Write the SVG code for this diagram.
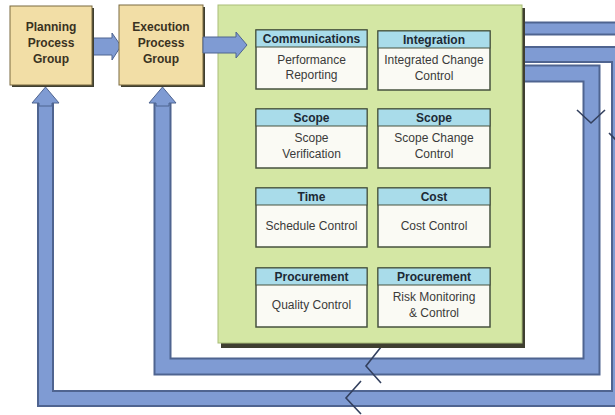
<svg xmlns="http://www.w3.org/2000/svg" width="615" height="415" viewBox="0 0 615 415">
  <style>
    .shadow { fill: #3f3f30; }
    .tan { fill: #F2DEA6; stroke: #7a6a40; stroke-width: 1; }
    .tantxt { font-family: "Liberation Sans", Arial, sans-serif; font-size: 12px; font-weight: bold; fill: #3a3222; text-anchor: middle; }
    .panel { fill: #D4E7A4; stroke: #a9bd78; stroke-width: 1; }
    .box { fill: #FAFAF4; stroke: #46523e; stroke-width: 1.5; }
    .hdr { fill: #A9DCEA; stroke: #46523e; stroke-width: 1; }
    .htxt { font-family: "Liberation Sans", Arial, sans-serif; font-size: 12px; font-weight: bold; fill: #1c2a36; text-anchor: middle; }
    .btxt { font-family: "Liberation Sans", Arial, sans-serif; font-size: 12px; fill: #3a3a3a; text-anchor: middle; }
    .bandE { fill: none; stroke: #4f6490; stroke-linejoin: miter; }
    .bandF { fill: none; stroke: #7F9BD3; stroke-linejoin: miter; }
    .arrow { fill: #7F9BD3; stroke: #4f6490; stroke-width: 1; }
    .chev { fill: none; stroke: #33405e; stroke-width: 1.6; }
  </style>

  <rect width="615" height="415" fill="#ffffff"/>

  <g id="connectors">
    <!-- outer loop: band 2 -> right -> bottom -> up to Planning -->
    <path class="bandE" stroke-width="17" d="M500 54.5 H619.5 V398.5 H45.5 V100"/>
    <path class="bandF" stroke-width="13" d="M500 54.5 H619.5 V398.5 H45.5 V100"/>
    <polygon class="arrow" points="45.5,87 59,103 52,103 52,106 39,106 39,103 32,103"/>
    <!-- inner loop: band 3 -> right -> bottom -> up to Execution -->
    <path class="bandE" stroke-width="18" d="M500 73.5 H591.5 V366.5 H162.5 V100"/>
    <path class="bandF" stroke-width="14" d="M500 73.5 H591.5 V366.5 H162.5 V100"/>
    <polygon class="arrow" points="162.5,87 176,103 169,103 169,106 156,106 156,103 149,103"/>
    <!-- band 1 off to the right -->
    <path class="bandE" stroke-width="14" d="M500 28.5 H616"/>
    <path class="bandF" stroke-width="10" d="M500 28.5 H616"/>
    <!-- chevron heads along the loops -->
    <polyline class="chev" points="577,110 591,123 605,110"/>
    <polyline class="chev" points="609,133 616,140"/>
    <polyline class="chev" points="381,347 366,366 381,383"/>
    <polyline class="chev" points="361,381 346,398 361,414"/>
    <!-- Planning -> Execution -->
    <polygon class="arrow" points="92,38 112,38 112,33 121,46 112,60 112,55 92,55"/>
  </g>

  <g id="planning">
    <rect class="shadow" x="12" y="8" width="82" height="79"/>
    <rect class="tan" x="10" y="6" width="82" height="79"/>
    <text class="tantxt" x="51" y="31">Planning</text>
    <text class="tantxt" x="51" y="47">Process</text>
    <text class="tantxt" x="51" y="63">Group</text>
  </g>

  <g id="execution">
    <rect class="shadow" x="121" y="7" width="84" height="80"/>
    <rect class="tan" x="119" y="5" width="84" height="80"/>
    <text class="tantxt" x="161" y="31">Execution</text>
    <text class="tantxt" x="161" y="47">Process</text>
    <text class="tantxt" x="161" y="63">Group</text>
  </g>

  <g id="monitoring-panel">
    <rect class="shadow" x="221" y="8" width="304" height="340"/>
    <rect class="panel" x="218" y="5" width="304" height="338"/>
  </g>

  <g id="exec-to-panel">
    <polygon class="arrow" points="203,37 236,37 236,32 247,45 236,58 236,53 203,53"/>
  </g>

  <g id="communications">
    <rect class="box" x="256" y="30" width="111" height="59"/>
    <rect class="hdr" x="256" y="30" width="111" height="17"/>
    <text class="htxt" x="311.5" y="43">Communications</text>
    <text class="btxt" x="311.5" y="64">Performance</text>
    <text class="btxt" x="311.5" y="79">Reporting</text>
  </g>

  <g id="integration">
    <rect class="box" x="378" y="31" width="112" height="59"/>
    <rect class="hdr" x="378" y="31" width="112" height="17"/>
    <text class="htxt" x="434" y="44">Integration</text>
    <text class="btxt" x="434" y="64">Integrated Change</text>
    <text class="btxt" x="434" y="80">Control</text>
  </g>

  <g id="scope-verification">
    <rect class="box" x="256" y="109" width="111" height="59"/>
    <rect class="hdr" x="256" y="109" width="111" height="17"/>
    <text class="htxt" x="311.5" y="122">Scope</text>
    <text class="btxt" x="311.5" y="142">Scope</text>
    <text class="btxt" x="311.5" y="158">Verification</text>
  </g>

  <g id="scope-change">
    <rect class="box" x="378" y="109" width="112" height="59"/>
    <rect class="hdr" x="378" y="109" width="112" height="17"/>
    <text class="htxt" x="434" y="122">Scope</text>
    <text class="btxt" x="434" y="142">Scope Change</text>
    <text class="btxt" x="434" y="158">Control</text>
  </g>

  <g id="time">
    <rect class="box" x="256" y="188" width="111" height="59"/>
    <rect class="hdr" x="256" y="188" width="111" height="17"/>
    <text class="htxt" x="311.5" y="201">Time</text>
    <text class="btxt" x="311.5" y="230">Schedule Control</text>
  </g>

  <g id="cost">
    <rect class="box" x="378" y="188" width="112" height="59"/>
    <rect class="hdr" x="378" y="188" width="112" height="17"/>
    <text class="htxt" x="434" y="201">Cost</text>
    <text class="btxt" x="434" y="230">Cost Control</text>
  </g>

  <g id="quality">
    <rect class="box" x="256" y="268" width="111" height="59"/>
    <rect class="hdr" x="256" y="268" width="111" height="17"/>
    <text class="htxt" x="311.5" y="281">Procurement</text>
    <text class="btxt" x="311.5" y="309">Quality Control</text>
  </g>

  <g id="risk">
    <rect class="box" x="378" y="268" width="112" height="59"/>
    <rect class="hdr" x="378" y="268" width="112" height="17"/>
    <text class="htxt" x="434" y="281">Procurement</text>
    <text class="btxt" x="434" y="301">Risk Monitoring</text>
    <text class="btxt" x="434" y="317">&amp; Control</text>
  </g>
</svg>
